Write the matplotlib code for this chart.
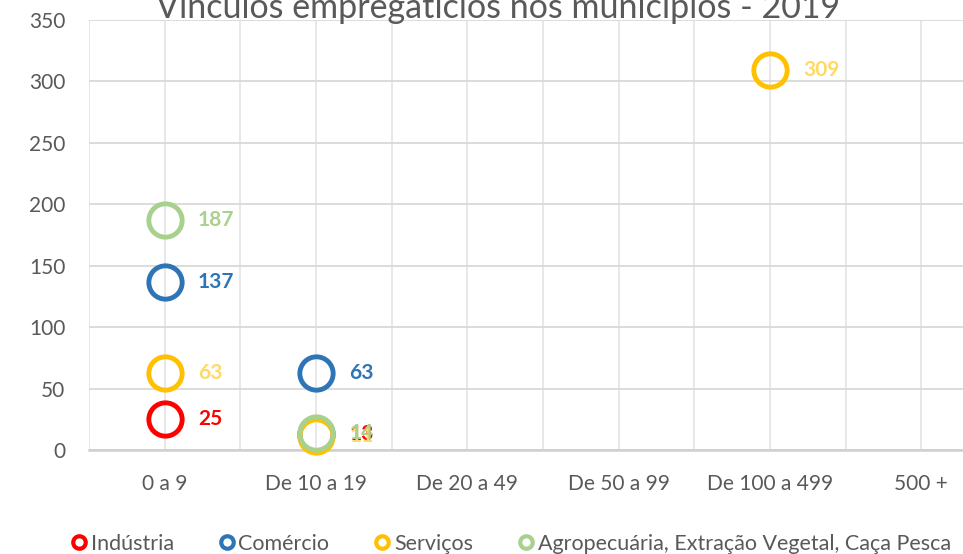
import numpy as np
import matplotlib
matplotlib.use("Agg")
import matplotlib.pyplot as plt
from matplotlib.lines import Line2D

plt.rcParams['font.family'] = ['Lato', 'DejaVu Sans']

title = "Vínculos empregatícios nos municípios - 2019"
categories = ["0 a 9", "De 10 a 19", "De 20 a 49", "De 50 a 99", "De 100 a 499", "500 +"]
series_names = ["Indústria", "Comércio", "Serviços", "Agropecuária, Extração Vegetal, Caça Pesca"]
industria = [25, 13, None, None, None, None]
comercio = [137, 63, None, None, None, None]
servicos = [63, 11, None, None, 309, None]
agro = [187, 14, None, None, None, None]
series_values = [industria, comercio, servicos, agro]
marker_colors = ["#FF0000", "#2E75B6", "#FFC000", "#A9D18E"]
label_colors = ["#FF0000", "#2E75B6", "#FFD966", "#A9D18E"]
yticks = [0, 50, 100, 150, 200, 250, 300, 350]

W, H = 963, 554
fig = plt.figure(figsize=(W / 100, H / 100), dpi=100)
ax = fig.add_axes([89 / W, (H - 450) / H, (997 - 89) / W, 430 / H])

x = np.arange(1, len(categories) + 1)
for name, vals, mc, lc in zip(series_names, series_values, marker_colors, label_colors):
    v = np.array([np.nan if a is None else a for a in vals], dtype=float)
    ax.plot(x, v, linestyle='none', marker='o', markersize=24, markerfacecolor='none',
            markeredgecolor=mc, markeredgewidth=3.5, zorder=3, clip_on=False)
    for xi, vi in zip(x, v):
        if not np.isnan(vi):
            ax.annotate(f"{int(vi)}", (xi, vi), xytext=(24, 0), textcoords='offset points',
                        ha='left', va='center', color=lc, fontsize=15, fontweight='bold', zorder=4)

ax.set_xlim(0.5, 6.5)
ax.set_ylim(0, 350)
ax.set_yticks(yticks)
ax.set_xticks(x)
ax.set_xticklabels(categories)
ax.set_xticks(np.arange(0.5, 6.51, 1.0), minor=True)
ax.tick_params(axis='both', which='both', length=0, labelsize=15, labelcolor='#595959')
ax.tick_params(axis='x', pad=17)
ax.tick_params(axis='y', pad=17)
ax.grid(True, axis='y', color='#D9D9D9', linewidth=1.3)
ax.grid(True, axis='x', which='both', color='#E6E6E6', linewidth=1.3)
ax.set_axisbelow(True)
for s in ['top', 'right', 'left']:
    ax.spines[s].set_visible(False)
ax.spines['bottom'].set_color('#D0D0D0')
ax.spines['bottom'].set_linewidth(1.8)

fig.text(498 / W, 1 - 18 / H, title, ha='center', va='baseline', fontsize=24.5, color='#595959')

handles = [Line2D([], [], linestyle='none', marker='o', markersize=9, markerfacecolor='none',
                  markeredgecolor=c, markeredgewidth=3) for c in marker_colors]
fig.legend(handles, series_names, loc='center', bbox_to_anchor=(510 / W, 1 - 544 / H),
           ncol=4, frameon=False, fontsize=15.5, labelcolor='#595959', handletextpad=0.1,
           columnspacing=2.0, handlelength=0.9, borderaxespad=0)

fig.savefig("out.png", dpi=100)
